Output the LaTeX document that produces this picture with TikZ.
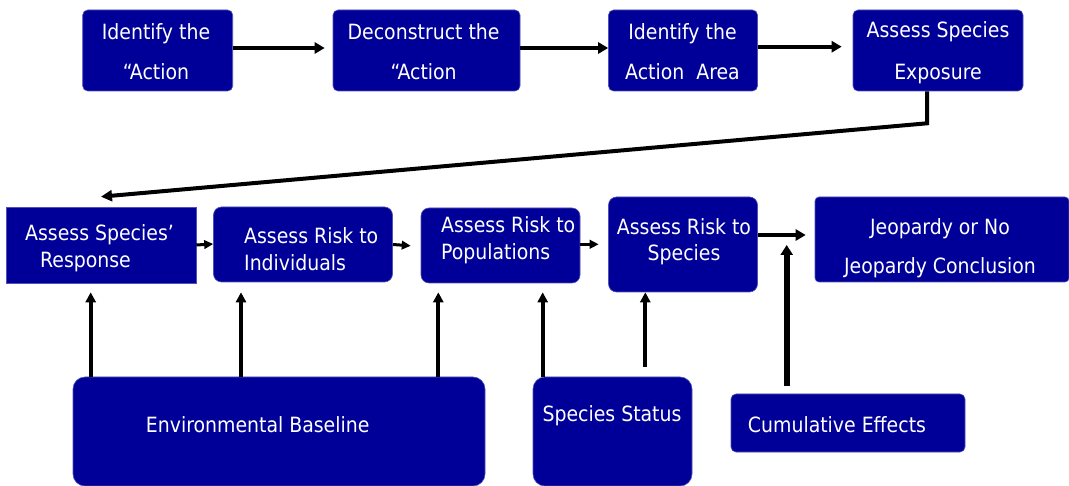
\documentclass[tikz,border=0pt]{standalone}
\usepackage{fontspec}
\setmainfont{DejaVu Sans Condensed}
\usetikzlibrary{arrows.meta,calc}
\definecolor{navy}{HTML}{000099}
\definecolor{edge}{HTML}{5050B8}
\begin{document}
\begin{tikzpicture}[x=1pt,y=-1pt,
  box/.style={fill=navy,draw=edge,line width=0.6pt,inner sep=0pt},
  tx/.style={text=white,inner sep=0pt,align=center},
  toparr/.style={line width=3.8pt,-{Triangle[length=10pt,width=11pt]}},
  midarr/.style={line width=3pt,-{Triangle[length=9pt,width=8.5pt]}},
  longarr/.style={line width=4pt,-{Triangle[length=11pt,width=11pt]}},
  uparr/.style={line width=4pt,-{Triangle[length=10pt,width=10pt]}},
  cumarr/.style={line width=6pt,-{Triangle[length=10pt,width=12pt]}}]
\useasboundingbox (0,0) rectangle (1069,486);
% top row
\node[box,rounded corners=5pt,minimum width=150pt,minimum height=81pt] (b1) at (157.7,50.5) {};
\node[box,rounded corners=5pt,minimum width=187pt,minimum height=81pt] (b2) at (426.5,50.5) {};
\node[box,rounded corners=5pt,minimum width=149pt,minimum height=81pt] (b3) at (683,50.5) {};
\node[box,rounded corners=5pt,minimum width=170pt,minimum height=81pt] (b4) at (938,50.5) {};
% second row
\node[box,minimum width=190pt,minimum height=76pt] (b5) at (101,245) {};
\node[box,rounded corners=8pt,minimum width=179pt,minimum height=75pt] (b6) at (303,244.5) {};
\node[box,rounded corners=8pt,minimum width=159pt,minimum height=75pt] (b7) at (500.5,245.5) {};
\node[box,rounded corners=8pt,minimum width=149pt,minimum height=95pt] (b8) at (683,244.5) {};
\node[box,rounded corners=4pt,minimum width=254pt,minimum height=85pt] (b9) at (942,239.5) {};
% bottom row
\node[box,rounded corners=12pt,minimum width=412pt,minimum height=109pt] (env) at (279,431.5) {};
\node[box,rounded corners=12pt,minimum width=159pt,minimum height=109pt] (ss) at (612.5,431.5) {};
\node[box,rounded corners=5pt,minimum width=234pt,minimum height=58pt] (cum) at (848,423) {};
% texts
\begin{scope}[every node/.append style={font=\fontsize{21}{40}\selectfont}]
\node[tx] (t1) at (156,51.7) {Identify the\\“Action};
\node[tx] (t2) at (423.6,51.7) {Deconstruct the\\“Action};
\node[tx] (t3) at (682.5,52) {Identify the\\Action\ \ Area};
\node[tx,font=\fontsize{21}{42}\selectfont] (t4) at (938,53) {Assess Species\\Exposure};
\end{scope}
\begin{scope}[every node/.append style={font=\fontsize{21}{26.7}\selectfont}]
\node[tx,align=left,anchor=west] (t5) at (25,248.3) {Assess Species’\\\hspace*{15pt}Response};
\node[tx,align=left,anchor=west] (t6) at (244,249) {Assess Risk to\\Individuals};
\node[tx,align=left,anchor=west] (t7) at (441,240.5) {Assess Risk to\\Populations};
\node[tx] (t8) at (684,241.7) {Assess Risk to\\Species};
\node[tx,font=\fontsize{21}{39}\selectfont] (t9) at (940,247.8) {Jeopardy or No\\Jeopardy Conclusion};
\node[tx] (t10) at (257.7,425) {Environmental Baseline};
\node[tx] (t11) at (612,416) {Species Status};
\node[tx] (t12) at (837,425) {Cumulative Effects};
\end{scope}
% top arrows
\draw[toparr,shorten >=8pt] ([yshift=2.5pt]b1.east) -- ([yshift=2.5pt]b2.west);
\draw[toparr] ([yshift=2.5pt]b2.east) -- ([yshift=2.5pt]b3.west);
\draw[toparr,shorten >=11pt] ([yshift=3.8pt]b3.east) -- ([yshift=3.8pt]b4.west);
% long connector
\draw[longarr] ([xshift=-11pt]b4.south) -- ++(0,32) -- ([yshift=10pt]b5.north);
% second row arrows
\draw[midarr] (b5.east) -- ([yshift=0.5pt]b6.west);
\draw[midarr,shorten >=10pt] (b6.east) -- ([yshift=-1pt]b7.west);
\draw[midarr,shorten >=9.5pt] ([yshift=1.2pt]b7.east) -- ([yshift=0.2pt]b8.west);
\draw[toparr,line width=4.5pt,shorten >=9pt] ([yshift=9.5pt]b8.east) -- ([yshift=4.5pt]b9.west);
% vertical arrows
\draw[uparr,shorten >=9pt] ([xshift=-188.3pt]env.north) -- ([xshift=-10.3pt]b5.south);
\draw[uparr,shorten >=10pt] ([xshift=-38pt]env.north) -- ([xshift=-62pt]b6.south);
\draw[uparr,shorten >=9pt] ([xshift=159.3pt]env.north) -- ([xshift=-62.2pt]b7.south);
\draw[uparr,shorten >=9pt] ([xshift=-69.8pt]ss.north) -- ([xshift=42.2pt]b7.south);
\draw[uparr,shorten <=10pt] ([xshift=32.8pt]ss.north) -- ([xshift=-37.7pt]b8.south);
\coordinate (cumtip) at (786.7,245);
\draw[cumarr,shorten <=8pt] (cum.north -| cumtip) -- (cumtip);
\end{tikzpicture}
\end{document}
